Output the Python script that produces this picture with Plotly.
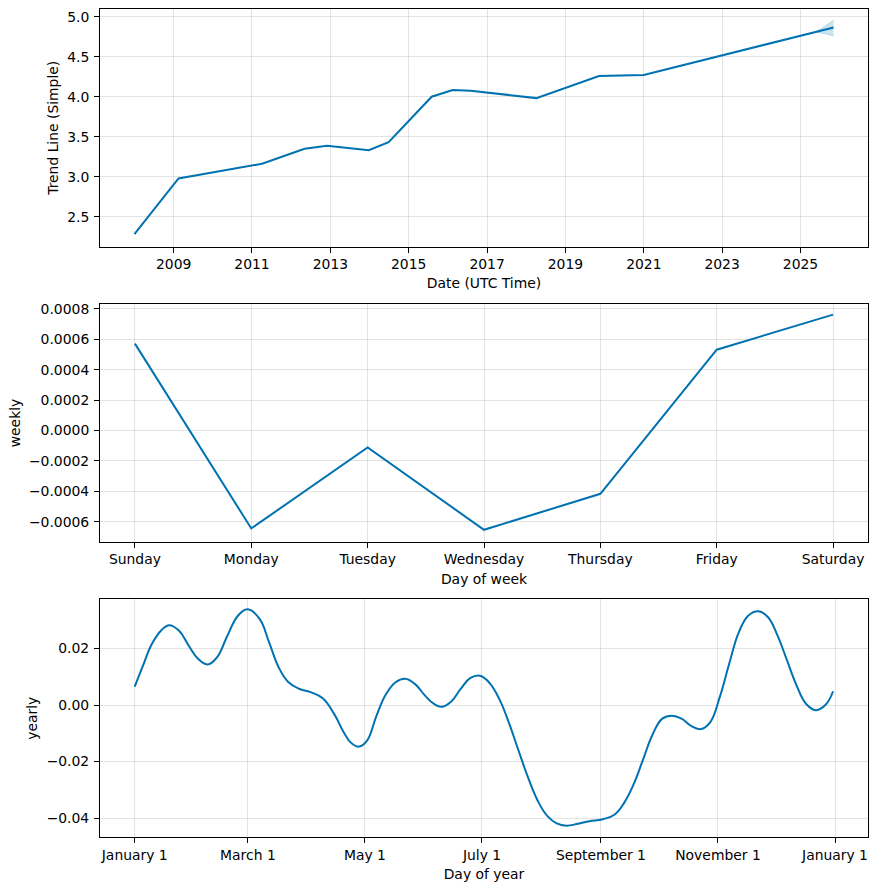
import pandas as pd
import plotly.graph_objects as go

# ---------------- data ----------------
trend_dates = ["2008-01-01", "2009-02-15", "2011-04-05", "2012-05-05", "2012-12-01",
               "2013-12-25", "2014-06-28", "2015-08-03", "2016-02-15", "2016-08-01",
               "2018-04-05", "2019-11-10", "2021-01-01", "2025-11-05"]
trend_values = [2.284, 2.979, 3.163, 3.350, 3.387,
                3.333, 3.433, 4.000, 4.083, 4.076,
                3.983, 4.259, 4.271, 4.866]

band_dates = ["2025-05-15", "2025-08-10", "2025-11-05"]
band_upper = [4.807, 4.875, 4.954]
band_lower = [4.807, 4.790, 4.760]

trend_ticks = ["2009-01-01", "2011-01-01", "2013-01-01", "2015-01-01", "2017-01-01",
               "2019-01-01", "2021-01-01", "2023-01-01", "2025-01-01"]

week_days = ["Sunday", "Monday", "Tuesday", "Wednesday", "Thursday", "Friday", "Saturday"]
weekly_values = [0.000572, -0.000644, -0.000111, -0.000653, -0.000416, 0.000532, 0.000763]

year_day_offsets = [0, 4, 9, 14, 18, 23, 28, 33, 38, 43, 48, 54, 59, 65, 70, 75, 80, 86,
                    92, 98, 104, 109, 113, 117, 121, 126, 131, 136, 141, 146, 151, 156,
                    160, 165, 170, 175, 180, 185, 190, 195, 200, 205, 210, 215, 220, 225,
                    231, 237, 244, 250, 255, 260, 265, 270, 275, 280, 285, 290, 295, 300,
                    305, 310, 315, 320, 325, 330, 335, 340, 345, 350, 355, 360, 364]
yearly_values = [0.0065, 0.0134, 0.0217, 0.0266, 0.0283, 0.0264, 0.0212, 0.0164, 0.0144,
                 0.0170, 0.0241, 0.0318, 0.0339, 0.0306, 0.0223, 0.0134, 0.0082, 0.0057,
                 0.0045, 0.0024, -0.0032, -0.0097, -0.0135, -0.0147, -0.0127, -0.0038,
                 0.0039, 0.0081, 0.0093, 0.0075, 0.0036, 0.0004, -0.0006, 0.0013, 0.0058,
                 0.0096, 0.0104, 0.0078, 0.0022, -0.0062, -0.0160, -0.0256, -0.0338,
                 -0.0392, -0.0419, -0.0427, -0.0420, -0.0411, -0.0404, -0.0388, -0.0347,
                 -0.0281, -0.0192, -0.0103, -0.0048, -0.0038, -0.0048, -0.0074, -0.0085,
                 -0.0060, 0.0030, 0.0150, 0.0260, 0.0318, 0.0332, 0.0312, 0.0247, 0.0158,
                 0.0069, 0.0004, -0.0018, 0.0000, 0.0049]

year_tick_dates = ["2017-01-01", "2017-03-01", "2017-05-01", "2017-07-01",
                   "2017-09-01", "2017-11-01", "2018-01-01"]
year_tick_labels = ["January 1", "March 1", "May 1", "July 1",
                    "September 1", "November 1", "January 1"]

# ---------------- figure ----------------
BLUE = "#0072B2"
FONT = dict(family="DejaVu Sans", size=13.9, color="black")
GRID = "rgba(128,128,128,0.22)"

base = pd.Timestamp("2017-01-01")
year_dates = [base + pd.Timedelta(days=d) for d in year_day_offsets]

fig = go.Figure()

fig.add_trace(go.Scatter(x=band_dates, y=band_lower, mode="lines",
                         line=dict(color="rgba(0,114,178,0.25)", width=0.8),
                         showlegend=False, hoverinfo="skip", xaxis="x", yaxis="y"))
fig.add_trace(go.Scatter(x=band_dates, y=band_upper, mode="lines", fill="tonexty",
                         fillcolor="rgba(0,114,178,0.2)",
                         line=dict(color="rgba(0,114,178,0.25)", width=0.8),
                         showlegend=False, hoverinfo="skip", xaxis="x", yaxis="y"))
fig.add_trace(go.Scatter(x=trend_dates, y=trend_values, mode="lines",
                         line=dict(color=BLUE, width=2), showlegend=False,
                         xaxis="x", yaxis="y"))
fig.add_trace(go.Scatter(x=week_days, y=weekly_values, mode="lines",
                         line=dict(color=BLUE, width=2), showlegend=False,
                         xaxis="x2", yaxis="y2"))
fig.add_trace(go.Scatter(x=year_dates, y=yearly_values, mode="lines",
                         line=dict(color=BLUE, width=2, shape="spline", smoothing=1.2),
                         showlegend=False, xaxis="x3", yaxis="y3"))

common = dict(showline=True, linecolor="black", linewidth=1, mirror=True,
              ticks="outside", ticklen=5, tickwidth=1, tickcolor="black",
              showgrid=True, gridcolor=GRID, gridwidth=1, zeroline=False,
              tickfont=FONT, automargin=False)
ycommon = dict(common, ticklabelstandoff=2)

h = 0.2869
d_top = [1 - h, 1]
d_mid = [0.3565, 0.3565 + h]
d_bot = [0, h]

fig.update_layout(
    template="none",
    width=878, height=889,
    margin=dict(l=100, r=10, t=9, b=52, autoexpand=False),
    paper_bgcolor="white", plot_bgcolor="white",
    font=FONT,
    xaxis=dict(**common, domain=[0, 1], anchor="y", type="date",
               range=["2007-02-14", "2026-09-22"],
               tickvals=trend_ticks, tickformat="%Y",
               title=dict(text="Date (UTC Time)", font=FONT, standoff=7)),
    yaxis=dict(**ycommon, domain=d_top, anchor="x", range=[2.129, 5.096],
               tick0=0, dtick=0.5, tickformat=".1f",
               title=dict(text="Trend Line (Simple)", font=FONT, standoff=5)),
    xaxis2=dict(**common, domain=[0, 1], anchor="y2", type="category",
                range=[-0.3, 6.3],
                title=dict(text="Day of week", font=FONT, standoff=7)),
    yaxis2=dict(**ycommon, domain=d_mid, anchor="x2", range=[-0.000732, 0.000831],
                tick0=0, dtick=0.0002, tickformat=".4f",
                title=dict(text="weekly", font=FONT, standoff=5)),
    xaxis3=dict(**common, domain=[0, 1], anchor="y3", type="date",
                range=[base + pd.Timedelta(days=-18.1), base + pd.Timedelta(days=382.2)],
                tickvals=year_tick_dates, ticktext=year_tick_labels,
                title=dict(text="Day of year", font=FONT, standoff=7)),
    yaxis3=dict(**ycommon, domain=d_bot, anchor="x3", range=[-0.0467, 0.0374],
                tick0=0, dtick=0.02, tickformat=".2f",
                title=dict(text="yearly", font=FONT, standoff=5)),
)

fig.write_html(
    "out.html",
    config={"displayModeBar": False},
    post_script="document.body.style.margin='0';document.body.style.overflow='hidden';",
)
